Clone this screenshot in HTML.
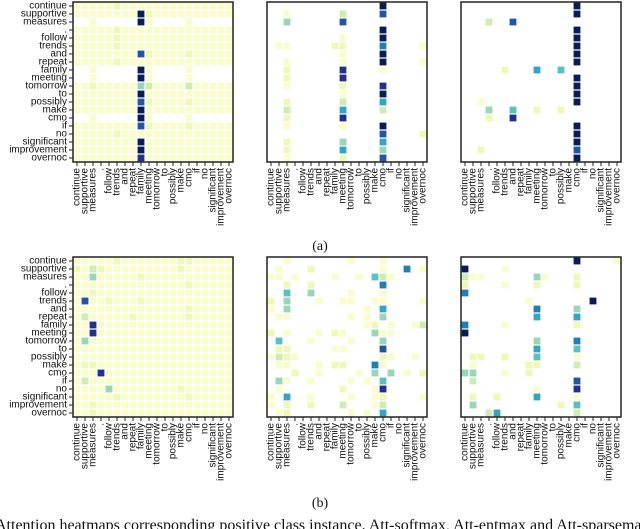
<!DOCTYPE html>
<html><head><meta charset="utf-8">
<style>
html,body{margin:0;padding:0;background:#fff;width:640px;height:529px;overflow:hidden}
svg{display:block}
text{font-family:"Liberation Sans",sans-serif;font-size:10px;fill:#111}
.cap{font-family:"Liberation Serif",serif;font-size:14px}
.cap2{font-family:"Liberation Serif",serif;font-size:16px}
</style></head>
<body>
<svg id="fig" width="640" height="529">
<text class="cap" x="320" y="250" text-anchor="middle">(a)</text>
<text class="cap" x="320" y="507" text-anchor="middle">(b)</text>
<text class="cap2" x="-5" y="530">Attention heatmaps corresponding positive class instance. Att-softmax, Att-entmax and Att-sparsemax</text>
</svg>
<script>
const tokens = ["continue","supportive","measures",".","follow","trends","and","repeat","family","meeting","tomorrow","to","possibly","make","cmo","if","no","significant","improvement","overnoc"];
const panelNames = ["a-softmax","a-entmax","a-sparsemax","b-softmax","b-entmax","b-sparsemax"];
const p1a = ["00000100000000000000","00000000910000000000","..0.....90....0.....","00000100000000000000","00000100000000000000","00000100000000000000","00000000710000100000","00000100000000000000","..0.....90....0.....","..0.....90....0.....","00100000320000200000","00000000900000000000","00000000710000100000","00000000900000000000","..0.....90....0.....","00000000710000100000","00000100000000000000","00000000900000000000","00000000900000000000","00000000800000000000"];
const p2a = ["..............9.....","..0......2....7.....","..3......7..........","..............9.....",".........0....9.....",".00.....11....6....0",".........0....9.....","..0......0....9....0","..1......8....0.....","..1......8..........","..0......1....8.....",".........0....9.....","..1......2....5.....","..2......5....2.....","..1......8..........","..0......0....9.....","..............7....1","..1......3....5.....","..1......5....3.....","..0......1....7....."];
const p3a = ["..............9.....","..............9.....","...2..7.............","..............9.....","..............9.....","..............9.....","..............9.....","..............9.....",".....1...5..4.......","..............9.....","..............9.....","..............9.....","..0...........9.....","...3..4..1..1.......","...1..8.............","..............9.....","..............9.....","..............9.....","..1...........7.....","..............9....."];
const p1b = ["00000100000001100000","10210000000001000000","00300000100000000000","00000000000000100000","00100000000000000000","07001000100000000000","00000000000000100000","02000001000000100000","00800000000000000000","00800000000000000000","03000000000000000000","00000000000000000000","00000000000000000000","01100000000000000000","00080000000000000000","02000000000000000000","00003000000001000000","00000100000000100000","00100000000000000000","00100000000000000000"];
const p2b = ["..0.......0...0.....",".0...1........0..6.0","00.0....0..0.420....","..1..1........6.....","..4..3....0...0.....","1.3...0..00..00....0","0.3.........0.5.....",".00.......0.0.3.....","............01.0..02","1.0...0.10...300....",".4...0....0...3.....",".11.....00....7.....","0210..........10..0.",".00...0.11...60.....","...1..0....0.3.3.0.1",".30..0....0.0.4.....",".0.......1...08.....","0.5..0....0..01....0","0.1..1...2...02.....",".01.......0.0.5....."];
const p3b = ["..............9....0","9....0..............","200......30...1.....","1....0...1....1.....","6...................","........0.......9...",".........6....3.....",".........5....5.....","6....0........1.....","9...................",".........3....6.....",".........5....4.....",".11..1...4....0.....",".0......11....2.....","33...0..1...........",".2............7.....",".........0....8.....",".1..1....5....0.....",".3..........1.4.....","...25.........2....."];
const panels = [p1a,p2a,p3a,p1b,p2b,p3b];

const NS="http://www.w3.org/2000/svg";
const svg=document.getElementById('fig');
const stops=[[255,255,217],[237,248,177],[199,233,180],[127,205,187],[65,182,196],[29,145,192],[34,94,168],[37,52,148],[8,29,88]];
function color(v){
  v=Math.max(0,Math.min(1,v));
  const t=v*(stops.length-1), i=Math.min(stops.length-2,Math.floor(t)), f=t-i;
  const c=stops[i].map((a,k)=>Math.round(a+(stops[i+1][k]-a)*f));
  return `rgb(${c[0]},${c[1]},${c[2]})`;
}
const lefts=[73,267,461], tops=[2,257], N=20, CS=8, W=N*CS;
function xs(p,c){return lefts[p%3]+c*CS;}
function ys(p,r){return tops[Math.floor(p/3)]+r*CS;}
function mk(tag,attrs,parent){const e=document.createElementNS(NS,tag);for(const k in attrs)e.setAttribute(k,attrs[k]);(parent||svg).appendChild(e);return e;}

panels.forEach((mat,p)=>{
  const g=mk('g',{});
  
  
  const L=lefts[p%3], T=tops[Math.floor(p/3)];
  mat.forEach((row,r)=>{
    for(let c=0;c<N;c++){
      const ch=row[c];
      if(ch==='.')continue;
      const v=Math.max(0.04,parseInt(ch)/9);
      const rc=mk('rect',{x:xs(p,c)+0.6,y:ys(p,r)+0.6,width:CS-1.2,height:CS-1.2,fill:color(v)},g);
      
      
    }
  });
  const fr=mk('rect',{x:L,y:T,width:W,height:W,fill:'none',stroke:'#222','stroke-width':1.5},g);
  
  
  for(let c=0;c<N;c++){
    const cx=xs(p,c)+CS/2;
    mk('line',{x1:cx,y1:T+W,x2:cx,y2:T+W+4,stroke:'#222','stroke-width':1},g);
    const t=mk('text',{x:0,y:0,'text-anchor':'end','dominant-baseline':'central',transform:`translate(${cx},${T+W+6}) rotate(-90)`},g);
    t.textContent=tokens[c];
    
    
  }
  if(p%3===0){
    for(let r=0;r<N;r++){
      const cy=ys(p,r)+CS/2;
      mk('line',{x1:L-4,y1:cy,x2:L,y2:cy,stroke:'#222','stroke-width':1},g);
      const t=mk('text',{x:L-6,y:cy,'text-anchor':'end','dominant-baseline':'central'},g);
      t.textContent=tokens[r];
      
      
    }
  }
});
</script>
</body></html>
